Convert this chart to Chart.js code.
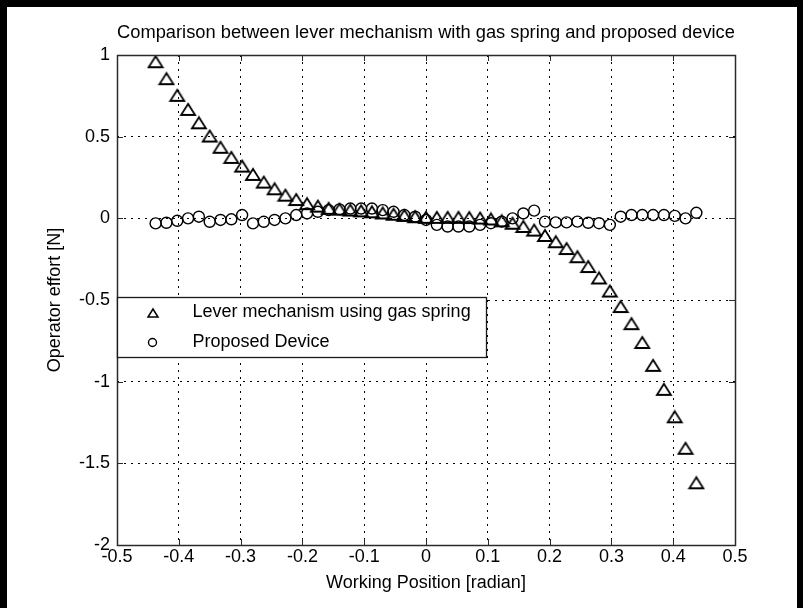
<!DOCTYPE html>
<html>
<head>
<meta charset="utf-8">
<title>Operator effort comparison</title>
<script src="https://cdn.jsdelivr.net/npm/chart.js@4/dist/chart.umd.min.js"></script>
<style>
  html, body { margin: 0; padding: 0; background: #fff; }
  #wrap { width: 803px; height: 608px; }
</style>
</head>
<body>
<div id="wrap"><canvas id="effort_chart" width="803" height="608"></canvas></div>
<script>
// text
var chartTitle = 'Comparison between lever mechanism with gas spring and proposed device';
var xAxisLabel = 'Working Position [radian]';
var yAxisLabel = 'Operator effort [N]';
var seriesNames = ['Lever mechanism using gas spring', 'Proposed Device'];

// ticks
var xTickValues = [-0.5, -0.4, -0.3, -0.2, -0.1, 0, 0.1, 0.2, 0.3, 0.4, 0.5];
var xTickLabels = ['-0.5', '-0.4', '-0.3', '-0.2', '-0.1', '0', '0.1', '0.2', '0.3', '0.4', '0.5'];
var yTickValues = [-2, -1.5, -1, -0.5, 0, 0.5, 1];
var yTickLabels = ['-2', '-1.5', '-1', '-0.5', '0', '0.5', '1'];

// working positions [radian]
var positions = [
  -0.4375, -0.42, -0.4025, -0.385, -0.3675, -0.35, -0.3325, -0.315, -0.2975, -0.28,
  -0.2625, -0.245, -0.2275, -0.21, -0.1925, -0.175, -0.1575, -0.14, -0.1225, -0.105,
  -0.0875, -0.07, -0.0525, -0.035, -0.0175, 0, 0.0175, 0.035, 0.0525, 0.07,
  0.0875, 0.105, 0.1225, 0.14, 0.1575, 0.175, 0.1925, 0.21, 0.2275, 0.245,
  0.2625, 0.28, 0.2975, 0.315, 0.3325, 0.35, 0.3675, 0.385, 0.4025, 0.42, 0.4375
];

// operator effort [N], lever mechanism with gas spring (triangles)
var leverEffort = [
  0.959, 0.855, 0.753, 0.667, 0.585, 0.504, 0.435, 0.373, 0.320, 0.269,
  0.222, 0.181, 0.142, 0.115, 0.090, 0.075, 0.061, 0.056, 0.051, 0.046,
  0.040, 0.033, 0.025, 0.018, 0.010, 0.006, 0.006, 0.006, 0.006, 0.005,
  0.002, -0.004, -0.015, -0.030, -0.050, -0.072, -0.105, -0.143, -0.185, -0.235,
  -0.295, -0.365, -0.445, -0.540, -0.645, -0.760, -0.900, -1.047, -1.215, -1.408, -1.619
];

// operator effort [N], proposed device (circles)
var deviceEffort = [
  -0.031, -0.027, -0.015, 0.0, 0.01, -0.021, -0.01, -0.006, 0.02, -0.031,
  -0.021, -0.01, 0.0, 0.02, 0.03, 0.04, 0.05, 0.055, 0.06, 0.06,
  0.06, 0.05, 0.04, 0.02, 0.01, -0.01, -0.04, -0.05, -0.05, -0.05,
  -0.04, -0.03, -0.02, 0.0, 0.03, 0.047, -0.02, -0.025, -0.025, -0.02,
  -0.027, -0.03, -0.04, 0.01, 0.02, 0.02, 0.02, 0.02, 0.015, 0.0, 0.034
];

var fontFamily = '"Liberation Sans", Arial, Helvetica, sans-serif';

function toPoints(xs, ys) {
  var pts = [];
  for (var i = 0; i < xs.length; i++) {
    pts.push({x: xs[i], y: ys[i]});
  }
  return pts;
}

// matlab style open triangle (a bit wider than tall)
function makeTriangle(w, h, lw) {
  var c = document.createElement('canvas');
  c.width = w + 4;
  c.height = h + 4;
  var g = c.getContext('2d');
  g.strokeStyle = '#000';
  g.lineWidth = lw;
  g.lineJoin = 'miter';
  g.beginPath();
  g.moveTo(c.width / 2, 2);
  g.lineTo(2, 2 + h);
  g.lineTo(2 + w, 2 + h);
  g.closePath();
  g.stroke();
  return c;
}

var triMarker = makeTriangle(14, 11, 1.8);
var triLegend = makeTriangle(10, 8, 1.5);

// box, inward ticks
var axesBox = {
  id: 'axesBox',
  afterDatasetsDraw: function(chart) {
    var ctx = chart.ctx, a = chart.chartArea;
    var xs = chart.scales.x, ys = chart.scales.y;
    var tl = 6;
    ctx.save();
    ctx.strokeStyle = '#2a2a2a';
    ctx.lineWidth = 1;
    ctx.beginPath();
    xTickValues.forEach(function(v) {
      var px = Math.round(xs.getPixelForValue(v)) + 0.5;
      ctx.moveTo(px, a.bottom); ctx.lineTo(px, a.bottom - tl);
      ctx.moveTo(px, a.top); ctx.lineTo(px, a.top + tl);
    });
    yTickValues.forEach(function(v) {
      var py = Math.round(ys.getPixelForValue(v)) + 0.5;
      ctx.moveTo(a.left, py); ctx.lineTo(a.left + tl, py);
      ctx.moveTo(a.right, py); ctx.lineTo(a.right - tl, py);
    });
    ctx.stroke();
    ctx.lineWidth = 1.5;
    ctx.strokeRect(Math.round(a.left) + 0.5, Math.round(a.top) + 0.5,
                   Math.round(a.right - a.left), Math.round(a.bottom - a.top));
    ctx.restore();
  }
};

// legend drawn inside the axes, lower left
var boxLegend = {
  id: 'boxLegend',
  afterDraw: function(chart) {
    var ctx = chart.ctx, a = chart.chartArea;
    var left = Math.round(a.left) + 0.5, top = 297.5, w = 369, h = 60;
    ctx.save();
    ctx.fillStyle = '#fff';
    ctx.fillRect(left, top, w, h);
    ctx.strokeStyle = '#1a1a1a';
    ctx.lineWidth = 1.3;
    ctx.strokeRect(left, top, w, h);
    var mx = left + 35, tx = left + 75;
    var rows = [top + 15, top + 45];
    ctx.drawImage(triLegend, Math.round(mx - triLegend.width / 2), Math.round(rows[0] - triLegend.height / 2));
    ctx.beginPath();
    ctx.arc(mx, rows[1], 4, 0, Math.PI * 2);
    ctx.lineWidth = 1.4;
    ctx.strokeStyle = '#000';
    ctx.stroke();
    ctx.fillStyle = '#000';
    ctx.font = '18px ' + fontFamily;
    ctx.textAlign = 'left';
    ctx.textBaseline = 'middle';
    ctx.fillText(chart.data.datasets[0].label, tx, rows[0]);
    ctx.fillText(chart.data.datasets[1].label, tx, rows[1]);
    ctx.restore();
  }
};

// black frame around the figure
var figureFrame = {
  id: 'figureFrame',
  beforeDraw: function(chart) {
    var ctx = chart.ctx;
    ctx.save();
    ctx.fillStyle = '#fff';
    ctx.fillRect(0, 0, chart.width, chart.height);
    ctx.fillStyle = '#000';
    ctx.fillRect(0, 0, chart.width, 7);
    ctx.fillRect(0, 0, 7, chart.height);
    ctx.fillRect(chart.width - 6, 0, 6, chart.height);
    ctx.restore();
  }
};

var tickFont = {family: fontFamily, size: 18, lineHeight: 1};

var effortChart = new Chart(document.getElementById('effort_chart'), {
  type: 'scatter',
  data: {
    datasets: [{
      label: seriesNames[0],
      data: toPoints(positions, leverEffort),
      pointStyle: triMarker,
      pointRadius: 7,
      borderColor: '#000',
      backgroundColor: 'rgba(0,0,0,0)',
      showLine: false
    }, {
      label: seriesNames[1],
      data: toPoints(positions, deviceEffort),
      pointStyle: 'circle',
      pointRadius: 5.5,
      pointBorderWidth: 1.4,
      borderColor: '#000',
      backgroundColor: 'rgba(0,0,0,0)',
      showLine: false
    }]
  },
  options: {
    responsive: false,
    animation: false,
    devicePixelRatio: 1,
    layout: {padding: {left: 0, right: 68, top: 0, bottom: 0}},
    plugins: {
      legend: {display: false},
      tooltip: {enabled: false},
      title: {display: false}
    },
    scales: {
      x: {
        type: 'linear',
        position: 'bottom',
        min: -0.5,
        max: 0.5,
        afterBuildTicks: function(s) {
          s.ticks = xTickValues.map(function(v) { return {value: v}; });
        },
        afterFit: function(s) { s.height = 63; },
        ticks: {
          autoSkip: false,
          maxRotation: 0,
          padding: 3,
          color: '#000',
          font: tickFont,
          callback: function(v, i) { return xTickLabels[i]; }
        },
        grid: {color: '#000', lineWidth: 1, drawTicks: false},
        border: {display: false, dash: [2, 5]},
        title: {
          display: true,
          text: xAxisLabel,
          color: '#000',
          font: tickFont,
          padding: {top: 0, bottom: 16}
        }
      },
      x2: {
        type: 'linear',
        position: 'top',
        min: -0.5,
        max: 0.5,
        afterFit: function(s) { s.height = 55; },
        ticks: {display: false},
        grid: {display: false, drawTicks: false},
        border: {display: false},
        title: {
          display: true,
          text: chartTitle,
          color: '#000',
          font: {family: fontFamily, size: 18.3, lineHeight: 1},
          padding: {top: 24, bottom: 0}
        }
      },
      y: {
        type: 'linear',
        position: 'left',
        min: -2,
        max: 1,
        afterBuildTicks: function(s) {
          s.ticks = yTickValues.map(function(v) { return {value: v}; });
        },
        afterFit: function(s) { s.width = 117; },
        ticks: {
          autoSkip: false,
          padding: 7,
          color: '#000',
          font: tickFont,
          callback: function(v, i) { return yTickLabels[i]; }
        },
        grid: {color: '#000', lineWidth: 1, drawTicks: false},
        border: {display: false, dash: [2, 5]},
        title: {
          display: true,
          text: yAxisLabel,
          color: '#000',
          font: tickFont,
          padding: {top: 46, bottom: 0}
        }
      }
    }
  },
  plugins: [figureFrame, axesBox, boxLegend]
});
</script>
</body>
</html>
